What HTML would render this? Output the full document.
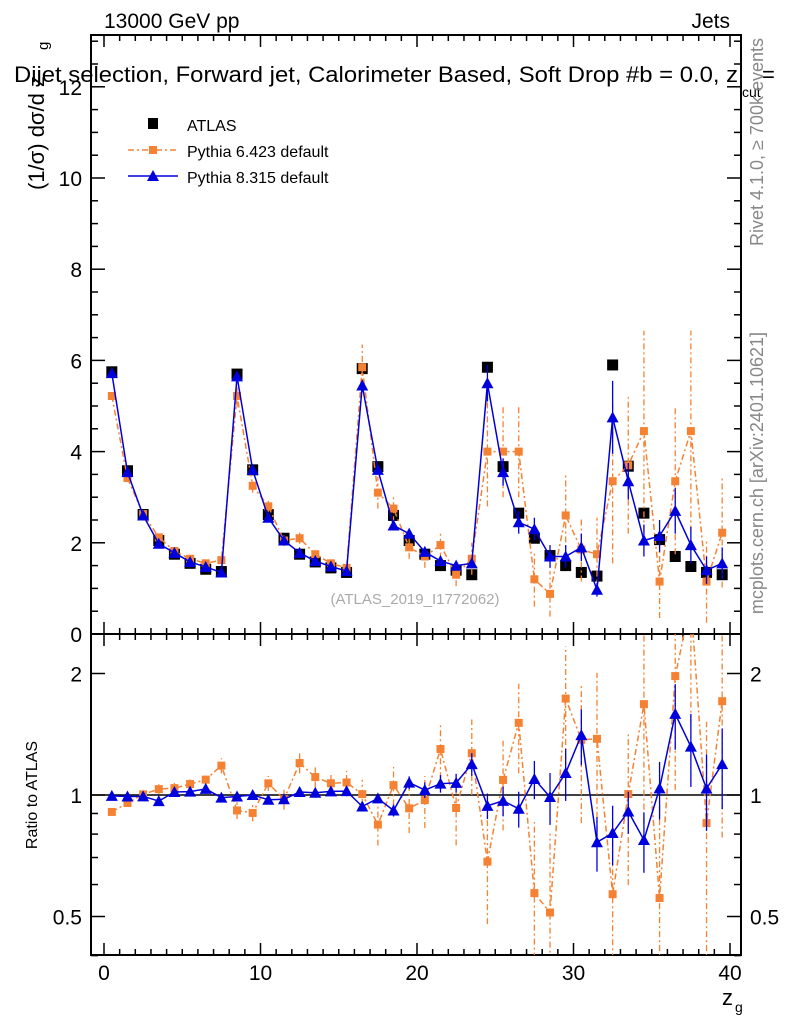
<!DOCTYPE html>
<html><head><meta charset="utf-8"><style>
body{margin:0;background:#fff;}
svg text{font-family:"Liberation Sans",sans-serif;}
</style></head><body>
<svg id="c" width="786" height="1024" xmlns="http://www.w3.org/2000/svg">
<defs>
<clipPath id="cm"><rect x="91" y="35" width="650" height="599"/></clipPath>
<clipPath id="cr"><rect x="91" y="634" width="650" height="321"/></clipPath>
</defs>
</svg>
<script>
const xs=[];for(let i=0;i<40;i++)xs.push(i+0.5);
const atlas=[5.75,3.58,2.62,2.05,1.75,1.55,1.42,1.37,5.7,3.6,2.62,2.1,1.75,1.58,1.45,1.35,5.82,3.67,2.6,2.05,1.75,1.5,1.4,1.3,5.85,3.67,2.65,2.1,1.72,1.5,1.35,1.27,5.9,3.68,2.65,2.07,1.7,1.48,1.35,1.3];
const py8=[5.72,3.55,2.6,1.98,1.78,1.58,1.47,1.35,5.65,3.6,2.55,2.05,1.78,1.6,1.48,1.38,5.45,3.6,2.38,2.2,1.8,1.6,1.5,1.55,5.5,3.55,2.45,2.3,1.7,1.7,1.9,0.97,4.75,3.35,2.05,2.15,2.7,1.95,1.4,1.55];
const py8err=[0.05,0.04,0.04,0.03,0.03,0.03,0.03,0.03,0.06,0.05,0.04,0.04,0.04,0.04,0.04,0.04,0.12,0.1,0.08,0.08,0.08,0.08,0.08,0.1,0.4,0.3,0.25,0.25,0.25,0.25,0.3,0.15,0.8,0.4,0.35,0.35,0.5,0.4,0.3,0.35];
const py6=[5.22,3.42,2.63,2.12,1.82,1.65,1.55,1.62,5.22,3.25,2.8,2.05,2.1,1.75,1.55,1.45,5.85,3.1,2.75,1.9,1.7,1.95,1.3,1.65,4.0,4.0,4.0,1.2,0.88,2.6,1.85,1.75,3.35,3.7,4.45,1.15,3.35,4.45,1.15,2.22];
const py6err=[0.08,0.07,0.07,0.06,0.06,0.06,0.06,0.07,0.25,0.15,0.12,0.12,0.12,0.1,0.1,0.1,0.5,0.35,0.3,0.25,0.25,0.3,0.25,0.35,1.2,1.0,1.0,0.6,0.5,0.9,0.7,0.8,1.8,1.5,2.2,0.8,1.6,2.2,0.9,1.2];
const xTicks=[0,10,20,30,40];
const yTicks=[0,2,4,6,8,10,12];
const rTicks=[0.5,1,2];
const rTickLabels=["0.5","1","2"];

const svg=document.getElementById('c');
const NS="http://www.w3.org/2000/svg";
function el(t,a,p){const e=document.createElementNS(NS,t);for(const k in a)e.setAttribute(k,a[k]);(p||svg).appendChild(e);return e;}
const L=91,R=741,T=35,MB=634,B=955;
const X=v=>104+15.65*v;
const Y=v=>634-45.6*v;
const RY=r=>795-121.5*Math.log2(r);

let f=el('rect',{x:L,y:T,width:R-L,height:MB-T,fill:'none',stroke:'#000','stroke-width':2});

f=el('rect',{x:L,y:MB,width:R-L,height:B-MB,fill:'none',stroke:'#000','stroke-width':2});


for(let v=0;v<=40;v++){const big=v%10==0;const x=X(v);const l=big?12:6;
 [[B,-1],[MB,-1],[MB,1],[T,1]].forEach(([y,d])=>el('line',{x1:x,x2:x,y1:y,y2:y+d*l,stroke:'#000','stroke-width':1.5}));}
xTicks.forEach(v=>{const t=el('text',{x:X(v),y:980,'font-size':21,'text-anchor':'middle'});t.textContent=v;
 });
for(let v=0;v<=13;v+=0.5){const y=Y(v);if(y<T)continue;const big=v%2==0;const l=big?14:7;
 el('line',{x1:L,x2:L+l,y1:y,y2:y,stroke:'#000','stroke-width':1.5});el('line',{x1:R,x2:R-l,y1:y,y2:y,stroke:'#000','stroke-width':1.5});}
yTicks.forEach(v=>{const t=el('text',{x:82,y:Y(v)+8,'font-size':21,'text-anchor':'end'});t.textContent=v;
 });
[0.4,0.5,0.6,0.7,0.8,0.9,1,2].forEach(r=>{const y=RY(r);const big=rTicks.includes(r);const l=big?14:7;
 el('line',{x1:L,x2:L+l,y1:y,y2:y,stroke:'#000','stroke-width':1.5});el('line',{x1:R,x2:R-l,y1:y,y2:y,stroke:'#000','stroke-width':1.5});});
rTicks.forEach((r,i)=>{let t=el('text',{x:82,y:RY(r)+8,'font-size':21,'text-anchor':'end'});t.textContent=rTickLabels[i];
 
 t=el('text',{x:750,y:RY(r)+8,'font-size':21});t.textContent=rTickLabels[i];
 });
el('line',{x1:L,x2:R,y1:RY(1),y2:RY(1),stroke:'#000','stroke-width':1.5});

function series(vals,errs,color,dash,marker,name,ratio){
 const g=el('g',{'clip-path':'url(#cm)'});
 const gr=el('g',{'clip-path':'url(#cr)'});
 const pts=[],rpts=[];
 vals.forEach((v,i)=>{const x=X(xs[i]);const y=Y(v);pts.push([x,y]);
  const r=v/atlas[i];const ry=RY(r);rpts.push([x,ry]);
  if(errs){el('line',{x1:x,x2:x,y1:Y(v-errs[i]),y2:Y(v+errs[i]),stroke:color,'stroke-width':1.3,'stroke-dasharray':dash||''},g);
   const re=errs[i]/atlas[i];
   el('line',{x1:x,x2:x,y1:RY(Math.max(0.2,r-re)),y2:RY(r+re),stroke:color,'stroke-width':1.3,'stroke-dasharray':dash||''},gr);}
 });
 if(ratio){
  el('polyline',{points:pts.map(p=>p.join(',')).join(' '),fill:'none',stroke:color,'stroke-width':1.5,'stroke-dasharray':dash||''},g);
  el('polyline',{points:rpts.map(p=>p.join(',')).join(' '),fill:'none',stroke:color,'stroke-width':1.5,'stroke-dasharray':dash||''},gr);
 }
 [[pts,g],[ratio?rpts:[],gr]].forEach(([arr,gg])=>arr.forEach(([x,y])=>{
  if(marker=='tri')el('polygon',{points:`${x},${y-6} ${x-6},${y+5} ${x+6},${y+5}`,fill:color},gg);
  else{const s=marker=='big'?11:8;el('rect',{x:x-s/2,y:y-s/2,width:s,height:s,fill:color},gg);}
 }));
}
series(atlas,null,'#000',null,'big','atlas-data',false);
series(py6,py6err,'#f58233','6,3,2,3','sq','pythia6-series',true);
series(py8,py8err,'#0000dd',null,'tri','pythia8-series',true);

function txt(s,a,name){const t=el('text',a);t.textContent=s;return t;}
txt('13000 GeV pp',{x:104,y:28,'font-size':21},'header-left');
txt('Jets',{x:730,y:28,'font-size':21,'text-anchor':'end'},'header-right');
txt('Dijet selection, Forward jet, Calorimeter Based, Soft Drop #b = 0.0, z',{x:14,y:82,'font-size':22,textLength:724,lengthAdjust:'spacingAndGlyphs'},'plot-title');
txt('cut',{x:742,y:97,'font-size':14},'title-sub');
txt('=',{x:762,y:82,'font-size':22},'title-end');
txt('(1/σ) dσ/d z',{x:0,y:0,'font-size':22,transform:'translate(44,190) rotate(-90)'},'y-axis-title');
txt('g',{x:0,y:0,'font-size':15,transform:'translate(48,50) rotate(-90)'},'y-axis-title-sub');
txt('Ratio to ATLAS',{x:0,y:0,'font-size':16,'text-anchor':'middle',transform:'translate(37,795) rotate(-90)'},'ratio-axis-title');
txt('z',{x:722,y:1005,'font-size':22},'x-axis-title');
txt('g',{x:735,y:1012,'font-size':14},'x-axis-title-sub');
txt('Rivet 4.1.0, ≥ 700k events',{x:0,y:0,'font-size':18,fill:'#888','text-anchor':'end',transform:'translate(763,38) rotate(-90)'},'rivet-label');
txt('mcplots.cern.ch [arXiv:2401.10621]',{x:0,y:0,'font-size':18,fill:'#888','text-anchor':'end',transform:'translate(763,332) rotate(-90)'},'mcplots-label');
txt('(ATLAS_2019_I1772062)',{x:415,y:604,'font-size':15,fill:'#aaa','text-anchor':'middle'},'analysis-watermark');
const lg=el('g',{});
el('rect',{x:148,y:118,width:10,height:11,fill:'#000'},lg);
el('line',{x1:128,x2:178,y1:150,y2:150,stroke:'#f58233','stroke-width':1.5,'stroke-dasharray':'6,3,2,3'},lg);
el('rect',{x:149,y:146,width:8,height:8,fill:'#f58233'},lg);
el('line',{x1:128,x2:178,y1:176,y2:176,stroke:'#0000dd','stroke-width':1.5},lg);
el('polygon',{points:'153,170 147,181 159,181',fill:'#0000dd'},lg);
txt('ATLAS',{x:187,y:131,'font-size':16},'legend-atlas');
txt('Pythia 6.423 default',{x:187,y:157,'font-size':16},'legend-pythia6');
txt('Pythia 8.315 default',{x:187,y:183,'font-size':16},'legend-pythia8');
</script>
</body></html>
